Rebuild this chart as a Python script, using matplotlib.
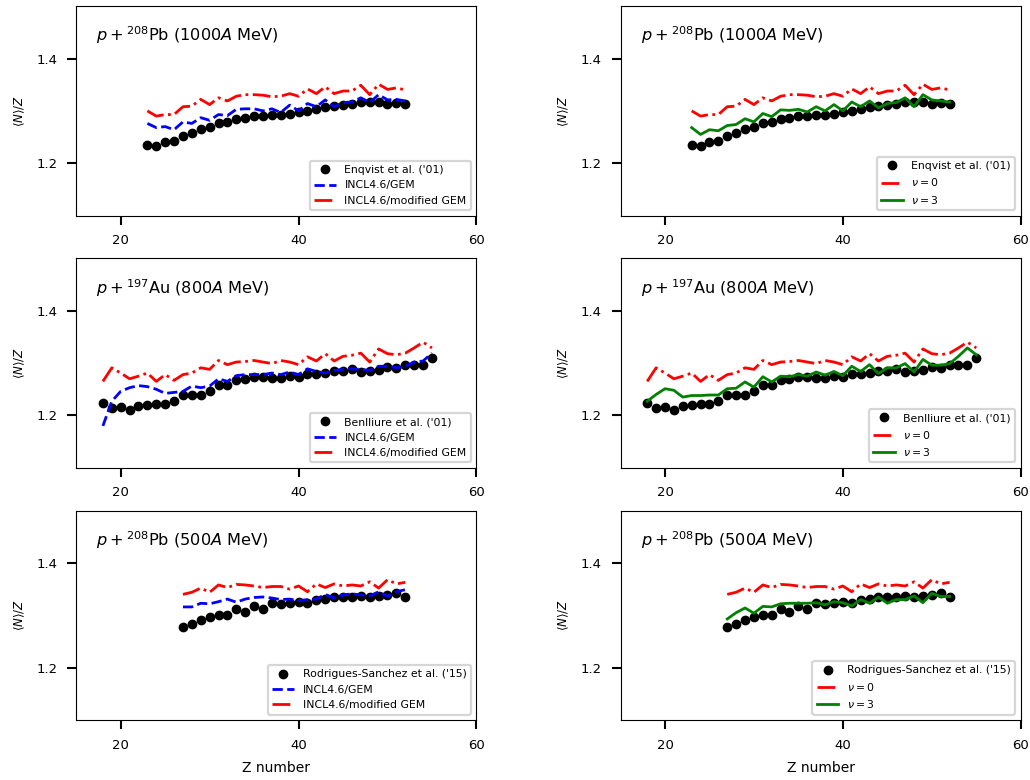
import matplotlib
matplotlib.use("Agg")
import matplotlib.pyplot as plt

# ---- data: <N>/Z versus fragment charge Z ----
# p + 208Pb at 1000A MeV
z_pb1000 = list(range(23, 53))
exp_pb1000 = [1.235, 1.232, 1.241, 1.243, 1.252, 1.257, 1.265, 1.269, 1.276, 1.279,
              1.285, 1.287, 1.290, 1.291, 1.293, 1.292, 1.295, 1.297, 1.300, 1.304,
              1.307, 1.309, 1.312, 1.314, 1.317, 1.317, 1.317, 1.314, 1.316, 1.314]
gem_pb1000 = [1.276, 1.268, 1.270, 1.264, 1.279, 1.276, 1.287, 1.282, 1.293, 1.291,
              1.303, 1.304, 1.304, 1.300, 1.304, 1.297, 1.311, 1.300, 1.314, 1.308,
              1.321, 1.308, 1.316, 1.317, 1.325, 1.316, 1.331, 1.321, 1.322, 1.319]
mod_pb1000 = [1.300, 1.290, 1.293, 1.293, 1.308, 1.309, 1.322, 1.312, 1.325, 1.319,
              1.328, 1.331, 1.331, 1.330, 1.327, 1.328, 1.333, 1.328, 1.342, 1.333,
              1.346, 1.333, 1.338, 1.338, 1.349, 1.331, 1.351, 1.341, 1.344, 1.340]
nu3_pb1000 = [1.268, 1.255, 1.264, 1.262, 1.272, 1.274, 1.285, 1.279, 1.295, 1.289,
              1.302, 1.301, 1.303, 1.298, 1.308, 1.300, 1.312, 1.300, 1.317, 1.308,
              1.319, 1.306, 1.314, 1.316, 1.325, 1.308, 1.331, 1.321, 1.319, 1.317]

# p + 197Au at 800A MeV
z_au800 = list(range(18, 56))
exp_au800 = [1.223, 1.215, 1.217, 1.211, 1.218, 1.220, 1.221, 1.222, 1.227, 1.239,
             1.239, 1.239, 1.246, 1.258, 1.258, 1.267, 1.269, 1.274, 1.274, 1.272,
             1.272, 1.275, 1.273, 1.279, 1.280, 1.281, 1.284, 1.285, 1.288, 1.283,
             1.285, 1.286, 1.292, 1.291, 1.296, 1.296, 1.296, 1.309]
gem_au800 = [1.180, 1.227, 1.246, 1.253, 1.257, 1.255, 1.250, 1.242, 1.244, 1.246,
             1.256, 1.253, 1.256, 1.270, 1.265, 1.276, 1.278, 1.278, 1.278, 1.281,
             1.278, 1.283, 1.278, 1.289, 1.284, 1.281, 1.286, 1.288, 1.289, 1.288,
             1.286, 1.294, 1.294, 1.291, 1.294, 1.302, 1.304, 1.319]
mod_au800 = [1.265, 1.291, 1.281, 1.270, 1.275, 1.281, 1.265, 1.278, 1.267, 1.278,
             1.281, 1.291, 1.288, 1.305, 1.297, 1.302, 1.303, 1.305, 1.302, 1.299,
             1.305, 1.302, 1.297, 1.312, 1.304, 1.318, 1.304, 1.313, 1.315, 1.319,
             1.302, 1.327, 1.318, 1.316, 1.319, 1.329, 1.340, 1.329]
nu3_au800 = [1.227, 1.240, 1.251, 1.248, 1.235, 1.238, 1.238, 1.239, 1.239, 1.251,
             1.252, 1.264, 1.254, 1.274, 1.264, 1.275, 1.274, 1.278, 1.275, 1.283,
             1.277, 1.284, 1.276, 1.294, 1.284, 1.297, 1.280, 1.291, 1.291, 1.299,
             1.283, 1.307, 1.296, 1.296, 1.299, 1.313, 1.329, 1.316]

# p + 208Pb at 500A MeV
z_pb500 = list(range(27, 53))
exp_pb500 = [1.278, 1.284, 1.291, 1.297, 1.300, 1.301, 1.312, 1.307, 1.318, 1.312,
             1.324, 1.321, 1.323, 1.326, 1.324, 1.330, 1.332, 1.335, 1.335, 1.335,
             1.337, 1.335, 1.337, 1.338, 1.342, 1.335]
gem_pb500 = [1.316, 1.316, 1.323, 1.322, 1.326, 1.331, 1.325, 1.331, 1.334, 1.335,
             1.333, 1.330, 1.331, 1.328, 1.330, 1.331, 1.340, 1.333, 1.339, 1.341,
             1.339, 1.337, 1.345, 1.336, 1.345, 1.349]
mod_pb500 = [1.340, 1.344, 1.352, 1.344, 1.358, 1.353, 1.359, 1.358, 1.356, 1.353,
             1.355, 1.355, 1.350, 1.356, 1.345, 1.360, 1.353, 1.360, 1.356, 1.358,
             1.356, 1.364, 1.352, 1.368, 1.360, 1.363]
nu3_pb500 = [1.293, 1.305, 1.314, 1.304, 1.317, 1.316, 1.322, 1.323, 1.323, 1.323,
             1.324, 1.320, 1.326, 1.324, 1.318, 1.330, 1.323, 1.335, 1.323, 1.330,
             1.330, 1.337, 1.324, 1.342, 1.336, 1.336]

titles = [r'$p+{}^{208}$Pb (1000$A$ MeV)',
          r'$p+{}^{197}$Au (800$A$ MeV)',
          r'$p+{}^{208}$Pb (500$A$ MeV)']
exp_labels = ["Enqvist et al. ('01)",
              "Benlliure et al. ('01)",
              "Rodrigues-Sanchez et al. ('15)"]

rows = [
    (z_pb1000, exp_pb1000, gem_pb1000, mod_pb1000, nu3_pb1000),
    (z_au800, exp_au800, gem_au800, mod_au800, nu3_au800),
    (z_pb500, exp_pb500, gem_pb500, mod_pb500, nu3_pb500),
]


def style_axis(ax, title):
    ax.set_xlim(15, 60)
    ax.set_ylim(1.1, 1.5)
    ax.set_xticks([20, 40, 60])
    ax.set_yticks([1.2, 1.4])
    ax.tick_params(direction='out', length=6.5, width=1.5, pad=7, labelsize=9.5)
    ax.set_ylabel(r'$\langle N\rangle/Z$', fontsize=8.5, labelpad=7)
    ax.text(0.05, 0.86, title, transform=ax.transAxes, fontsize=11.6, va='center')
    # legend with a light grey, slightly heavier frame
    leg = ax.legend(loc='lower right', fontsize=7.8)
    leg.get_frame().set_linewidth(1.6)
    leg.get_frame().set_edgecolor('0.8')


fig, axes = plt.subplots(3, 2, figsize=(10.3, 7.8), dpi=100)
plt.subplots_adjust(left=0.074, right=0.991, top=0.992, bottom=0.077,
                    wspace=0.36, hspace=0.205)

for i, (z, exp, gem, mod, nu3) in enumerate(rows):
    # left column: GEM vs modified GEM
    ax = axes[i, 0]
    ax.plot(z, exp, 'o', color='k', markersize=6, label=exp_labels[i])
    ax.plot(z, gem, '--', color='b', linewidth=2, label='INCL4.6/GEM')
    ax.plot(z, mod, '-.', color='r', linewidth=2, label='INCL4.6/modified GEM')
    style_axis(ax, titles[i])

    # right column: nu = 0 vs nu = 3
    ax = axes[i, 1]
    ax.plot(z, exp, 'o', color='k', markersize=6, label=exp_labels[i])
    ax.plot(z, mod, '-.', color='r', linewidth=2, label=r'$\nu=0$')
    ax.plot(z, nu3, '-', color='g', linewidth=2, label=r'$\nu=3$')
    style_axis(ax, titles[i])

axes[2, 0].set_xlabel('Z number', fontsize=10, labelpad=7)
axes[2, 1].set_xlabel('Z number', fontsize=10, labelpad=7)

plt.savefig('out.png', dpi=100)
